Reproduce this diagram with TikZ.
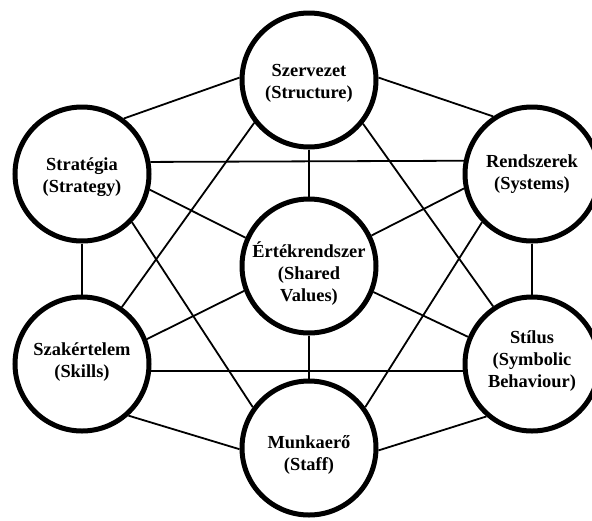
\documentclass[tikz,border=0pt]{standalone}
\usepackage{fontspec}
\setmainfont{Liberation Serif}
\begin{document}
\begin{tikzpicture}[x=1pt,y=-1pt,
  ring/.style={circle,draw,line width=5pt,fill=white,minimum size=134pt,inner sep=0pt},
  lbl/.style={align=center,font=\bfseries\fontsize{18.4}{22}\selectfont,inner sep=0pt},
  link/.style={line width=1.8pt}]
\useasboundingbox (0,0) rectangle (592,520);
% circles
\node[ring] (c1) at (309,80) {};
\node[ring] (c2) at (82,174) {};
\node[ring] (c3) at (532,174) {};
\node[ring] (c4) at (309,266) {};
\node[ring] (c5) at (82,364) {};
\node[ring] (c6) at (532,364) {};
\node[ring] (c7) at (309,448) {};
% labels
\node[lbl] (t1) at ([yshift=-3.5pt]c1.center) {Szervezet\\(Structure)};
\node[lbl] (t2) at ([yshift=-3.5pt]c2.center) {Stratégia\\(Strategy)};
\node[lbl] (t3) at ([yshift=-0.5pt]c3.center) {Rendszerek\\(Systems)};
\node[lbl] (t4) at ([yshift=-8pt]c4.center) {Értékrendszer\\(Shared\\Values)};
\node[lbl] (t5) at ([yshift=2pt]c5.center) {Szakértelem\\(Skills)};
\node[lbl] (t6) at ([yshift=2.5pt]c6.center) {Stílus\\(Symbolic\\Behaviour)};
\node[lbl] (t7) at ([yshift=-6.5pt]c7.center) {Munkaerő\\(Staff)};
% connectors
\draw[link] (c2.53) -- (c1.178);
\draw[link] (c1.2) -- (c3.124);
\draw[link] (c2.10.5) -- (c3.169.5);
\draw[link] (c1.270) -- (c4.90);
\draw[link] (c1.218) -- (c5.55);
\draw[link] (c1.321) -- (c6.124);
\draw[link] (c2.347) -- (c4.156);
\draw[link] (c2.316) -- (c7.144);
\draw[link] (c2.270) -- (c5.90);
\draw[link] (c3.192) -- (c4.26.6);
\draw[link] (c3.224) -- (c7.36);
\draw[link] (c3.270) -- (c6.90);
\draw[link] (c4.201.5) -- (c5.21);
\draw[link] (c4.338.5) -- (c6.157);
\draw[link] (c4.270) -- (c7.90);
\draw[link] (c5.354) -- (c6.186);
\draw[link] (c5.312) -- (c7.181.6);
\draw[link] (c6.229.7) -- (c7.358.4);
\end{tikzpicture}
\end{document}
